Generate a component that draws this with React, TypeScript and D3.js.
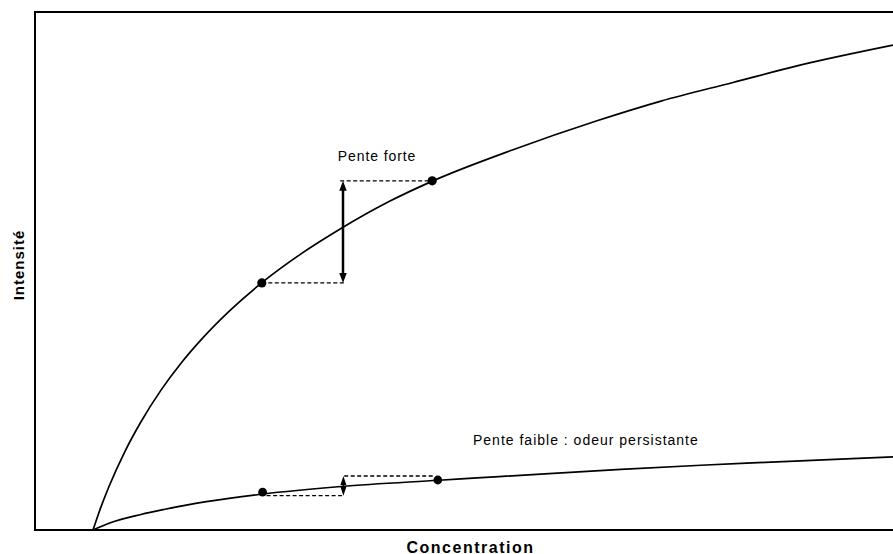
import React, { useEffect } from "react";
import * as d3 from "d3";

// Upper curve: strong slope
const upperConc = [0, 1, 2, 4, 6, 8.5, 11, 13.5, 17, 21, 26, 31, 37, 42.5, 52.5, 63, 71, 80, 88, 100];
const upperInt = [0, 4.46, 8.4, 15.2, 20.9, 27.0, 32.2, 36.7, 42.2, 47.6, 53.3, 58.2, 63.4, 67.4, 73.4, 79.0, 82.8, 86.4, 89.6, 93.6];
// Lower curve: weak slope (persistent odour)
const lowerConc = [0, 2, 6, 9, 12, 17, 21, 31, 43.25, 48, 57, 66, 76, 84, 92, 100];
const lowerInt = [0, 1.3, 3.0, 4.0, 4.9, 6.1, 6.9, 8.4, 9.6, 10.05, 10.9, 11.7, 12.5, 13.05, 13.6, 14.1];

// Marked points
const upperDotsConc = [21.1, 42.4];
const upperDotsInt = [47.7, 67.4];
const lowerDotsConc = [21.2, 43.1];
const lowerDotsInt = [7.3, 9.65];

// Slope guides: dashed [x1, x2, y] and arrows [x, y1, y2]
const upperDashLow = [21.1, 31.6, 47.7];
const upperDashHigh = [30.9, 42.4, 67.4];
const upperArrow = [31.25, 47.7, 67.4];
const lowerDashLow = [21.7, 31.4, 6.62];
const lowerDashHigh = [31.4, 42.7, 10.42];
const lowerArrow = [31.3, 6.62, 10.42];

const labelStrong = "Pente forte";
const labelWeak = "Pente faible : odeur persistante";
const xTitle = "Concentration";
const yTitle = "Intensité";
const labelStrongPos = [30.6, 71.3];
const labelWeakPos = [47.5, 16.4];

const W = 893;
const H = 554;
const frameLeft = 35;
const frameTop = 12;
const frameBottom = 530;
const originX = 93;

export default function App() {
  useEffect(() => {
    document.body.style.margin = "0";
  }, []);

  const x = d3.scaleLinear().domain([0, 100]).range([originX, W]);
  const y = d3.scaleLinear().domain([0, 100]).range([frameBottom, frameTop]);

  const line = d3
    .line<[number, number]>()
    .x((d) => x(d[0]))
    .y((d) => y(d[1]))
    .curve(d3.curveMonotoneX);

  const upper = upperConc.map((c, i) => [c, upperInt[i]] as [number, number]);
  const lower = lowerConc.map((c, i) => [c, lowerInt[i]] as [number, number]);

  const font = "Arial, 'Liberation Sans', sans-serif";

  const dash = (d: number[], key: string) => (
    <line
      key={key}
      x1={x(d[0])}
      x2={x(d[1])}
      y1={y(d[2])}
      y2={y(d[2])}
      stroke="#000"
      strokeWidth={1.3}
      strokeDasharray="4,2.5"
    />
  );

  const arrow = (d: number[], headLen: number, headW: number, sw: number, key: string) => {
    const ax = x(d[0]);
    const yb = y(d[1]);
    const yt = y(d[2]);
    return (
      <g key={key}>
        <line x1={ax} x2={ax} y1={yb - headLen * 0.6} y2={yt + headLen * 0.6} stroke="#000" strokeWidth={sw} />
        <path d={`M${ax},${yt} L${ax - headW / 2},${yt + headLen} L${ax + headW / 2},${yt + headLen} Z`} fill="#000" />
        <path d={`M${ax},${yb} L${ax - headW / 2},${yb - headLen} L${ax + headW / 2},${yb - headLen} Z`} fill="#000" />
      </g>
    );
  };

  return (
    <svg
      width={W}
      height={H}
      style={{ position: "absolute", left: 0, top: 0, display: "block", background: "#fff" }}
    >
      <rect x={0} y={0} width={W} height={H} fill="#fff" />
      <path
        d={`M${W + 10},${frameTop} H${frameLeft} V${frameBottom} H${W + 10}`}
        fill="none"
        stroke="#000"
        strokeWidth={2}
      />
      <path d={line(upper) || ""} fill="none" stroke="#000" strokeWidth={1.7} />
      <path d={line(lower) || ""} fill="none" stroke="#000" strokeWidth={1.7} />

      {dash(upperDashLow, "udl")}
      {dash(upperDashHigh, "udh")}
      {dash(lowerDashLow, "ldl")}
      {dash(lowerDashHigh, "ldh")}

      {arrow(upperArrow, 10, 7.5, 2.5, "ua")}
      {arrow(lowerArrow, 9, 6, 1.5, "la")}

      {upperDotsConc.map((c, i) => (
        <circle key={"ud" + i} cx={x(c)} cy={y(upperDotsInt[i])} r={4.6} fill="#000" />
      ))}
      {lowerDotsConc.map((c, i) => (
        <circle key={"ld" + i} cx={x(c)} cy={y(lowerDotsInt[i])} r={4.4} fill="#000" />
      ))}

      <text
        x={x(labelStrongPos[0])}
        y={y(labelStrongPos[1])}
        fontFamily={font}
        fontSize={14}
        letterSpacing={0.9}
        fill="#000"
      >
        {labelStrong}
      </text>
      <text
        x={x(labelWeakPos[0])}
        y={y(labelWeakPos[1])}
        fontFamily={font}
        fontSize={14}
        letterSpacing={1}
        fill="#000"
      >
        {labelWeak}
      </text>
      <text
        x={470.5}
        y={552.5}
        textAnchor="middle"
        fontFamily={font}
        fontSize={16}
        fontWeight="bold"
        letterSpacing={1.5}
        fill="#000"
      >
        {xTitle}
      </text>
      <text
        transform={`translate(24,265) rotate(-90)`}
        textAnchor="middle"
        fontFamily={font}
        fontSize={15}
        fontWeight="bold"
        letterSpacing={1}
        fill="#000"
      >
        {yTitle}
      </text>
    </svg>
  );
}
